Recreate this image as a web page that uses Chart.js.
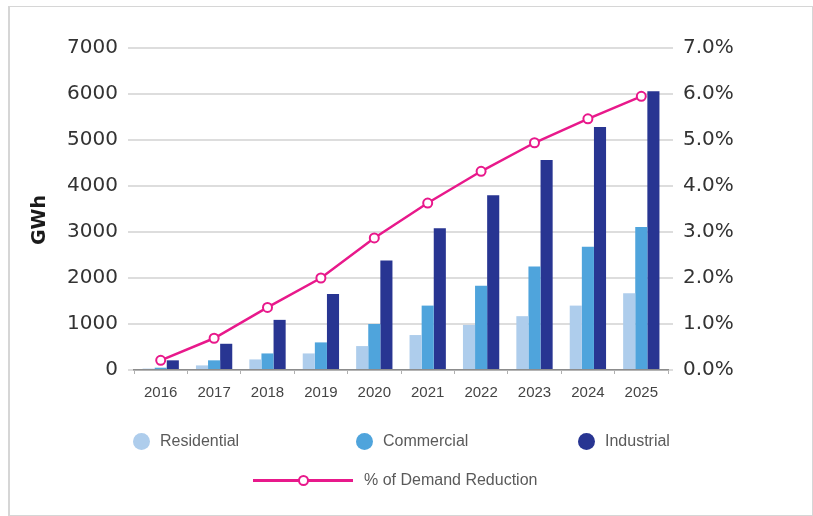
<!DOCTYPE html>
<html>
<head>
<meta charset="utf-8">
<script src="https://cdn.jsdelivr.net/npm/chart.js@4/dist/chart.umd.min.js"></script>
<style>
  body { margin: 0; background: #fff; }
  #frame { position: absolute; left: 8px; top: 6px; width: 802px; height: 508px; border: 1px solid #d6d6d6; border-left-width: 2px; }
  #wrap { position: absolute; left: 0; top: 0; width: 813px; height: 516px; }
  .legend-row { position: absolute; font-family: "Liberation Sans", Arial, sans-serif; font-size: 16px; color: #5a5a5a; }
  #row1 { left: 133px; top: 431px; display: grid; grid-template-columns: 223px 222px 120px; }
  #row2 { left: 253px; top: 471px; display: flex; align-items: center; }
  .item { display: flex; align-items: center; height: 20px; }
  .dot { width: 17px; height: 17px; border-radius: 50%; margin-right: 10px; }
  .line { position: relative; width: 100px; height: 3px; margin-right: 11px; }
  .line .pt { position: absolute; left: 45px; top: -4px; width: 7px; height: 7px; border-radius: 50%; background: #fff; border: 2px solid; }
</style>
</head>
<body>
<div id="frame"></div>
<div id="wrap"><canvas id="chart" width="813" height="516"></canvas></div>
<div id="row1" class="legend-row"></div>
<div id="row2" class="legend-row"></div>
<script>
const years = ["2016", "2017", "2018", "2019", "2020", "2021", "2022", "2023", "2024", "2025"]
const residential = [30, 100, 230, 360, 520, 760, 980, 1170, 1400, 1670]
const commercial = [50, 210, 360, 600, 1000, 1400, 1830, 2250, 2680, 3110]
const industrial = [210, 570, 1090, 1650, 2380, 3080, 3800, 4565, 5280, 6060]
const demandReduction = [0.21, 0.69, 1.36, 2.0, 2.87, 3.63, 4.32, 4.94, 5.46, 5.95]

const barColors = { Residential: "#aecdec", Commercial: "#4fa4dc", Industrial: "#283592" }
const lineColor = "#e8198b"
const lineLabel = "% of Demand Reduction"

const tickFont = { family: "'DejaVu Sans', sans-serif", size: 20 }
const gridColor = "#dddddd"

const bar = (label, data) => ({
  type: "bar", label, data, yAxisID: "y", order: 1,
  backgroundColor: barColors[label],
  categoryPercentage: 0.68, barPercentage: 1.0
})

// draws the GWh axis title a bit below the plot centre, like the original
const gwhTitle = {
  id: "gwhTitle",
  afterDraw(chart) {
    const { ctx } = chart
    ctx.save()
    ctx.translate(40, 220)
    ctx.rotate(-Math.PI / 2)
    ctx.font = "bold 19px 'DejaVu Sans', sans-serif"
    ctx.fillStyle = "#1a1a1a"
    ctx.textAlign = "center"
    ctx.textBaseline = "middle"
    ctx.fillText("GWh", 0, 0)
    ctx.restore()
  }
}

new Chart(document.getElementById("chart"), {
  data: {
    labels: years,
    datasets: [
      bar("Residential", residential),
      bar("Commercial", commercial),
      bar("Industrial", industrial),
      {
        type: "line", label: lineLabel, data: demandReduction, yAxisID: "y2", order: 0,
        borderColor: lineColor, borderWidth: 2.5,
        pointRadius: 4.5, pointBorderWidth: 2, pointBackgroundColor: "#fff", pointBorderColor: lineColor,
        tension: 0
      }
    ]
  },
  plugins: [gwhTitle],
  options: {
    responsive: false,
    animation: false,
    layout: { padding: { top: 48, left: 0, right: 0, bottom: 0 } },
    plugins: { legend: { display: false }, tooltip: { enabled: false } },
    scales: {
      x: {
        offset: true,
        grid: { display: true, drawOnChartArea: false, offset: true, tickLength: 4, color: "#b0b0b0" },
        border: { display: true, color: "#8c8c8c", width: 1.5 },
        ticks: { color: "#444", padding: 10, font: { family: "'Liberation Sans', sans-serif", size: 15 } },
        afterFit: s => { s.height = 146 }
      },
      y: {
        position: "left", min: 0, max: 7000,
        ticks: { stepSize: 1000, color: "#333", padding: 10, font: tickFont, callback: v => String(v) },
        grid: { color: gridColor, lineWidth: 2, tickLength: 6 },
        border: { display: false },
        afterFit: s => { s.width = 134 }
      },
      y2: {
        position: "right", min: 0, max: 7,
        ticks: { stepSize: 1, color: "#333", padding: 10, font: tickFont, callback: v => v.toFixed(1) + "%" },
        grid: { drawOnChartArea: false, color: gridColor, lineWidth: 2, tickLength: 5 },
        border: { display: false },
        afterFit: s => { s.width = 145 }
      }
    }
  }
})

// legend built from the same labels and colours
const row1 = document.getElementById("row1")
Object.keys(barColors).forEach(name => {
  const el = document.createElement("div")
  el.className = "item"
  el.innerHTML = `<span class="dot" style="background:${barColors[name]}"></span><span>${name}</span>`
  row1.appendChild(el)
})
const row2 = document.getElementById("row2")
row2.innerHTML = `<span class="line" style="background:${lineColor}"><span class="pt" style="border-color:${lineColor}"></span></span><span>${lineLabel}</span>`
</script>
</body>
</html>
